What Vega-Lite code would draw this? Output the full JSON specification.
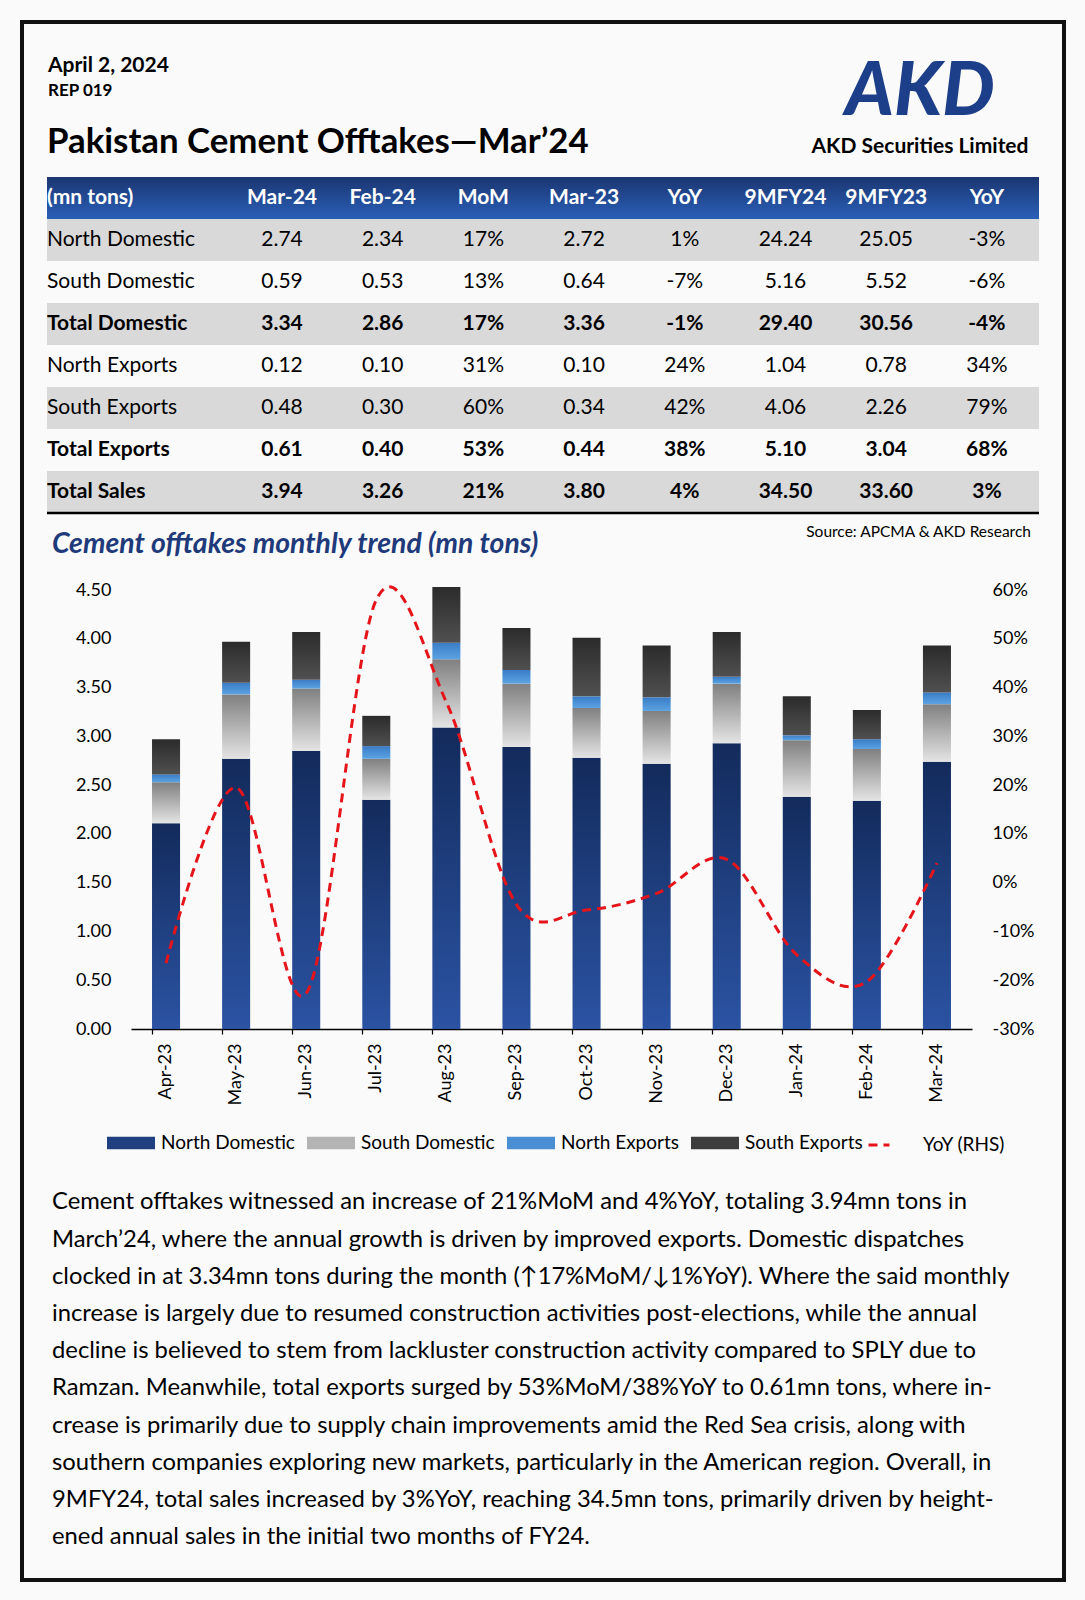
{
  "$schema": "https://vega.github.io/schema/vega-lite/v6.json",
  "background": "#fafafa",
  "padding": {"left": 20, "top": 20, "right": 19, "bottom": 18},
  "config": {
    "font": "Lato",
    "view": {"stroke": null},
    "axis": {"grid": false, "labelFont": "Lato", "labelColor": "#000"},
    "legend": {"labelFont": "Lato", "labelColor": "#000"},
    "title": {"font": "Lato", "subtitleFont": "Lato", "frame": "group", "color": "#000", "subtitleColor": "#000"},
    "text": {"font": "Lato"}
  },
  "datasets": {
    "table": [
      {"r": "(mn tons)", "c0": "(mn tons)", "c1": "Mar-24", "c2": "Feb-24", "c3": "MoM", "c4": "Mar-23", "c5": "YoY", "c6": "9MFY24", "c7": "9MFY23", "c8": "YoY"},
      {"r": "North Domestic", "c0": "North Domestic", "c1": "2.74", "c2": "2.34", "c3": "17%", "c4": "2.72", "c5": "1%", "c6": "24.24", "c7": "25.05", "c8": "-3%"},
      {"r": "South Domestic", "c0": "South Domestic", "c1": "0.59", "c2": "0.53", "c3": "13%", "c4": "0.64", "c5": "-7%", "c6": "5.16", "c7": "5.52", "c8": "-6%"},
      {"r": "Total Domestic", "c0": "Total Domestic", "c1": "3.34", "c2": "2.86", "c3": "17%", "c4": "3.36", "c5": "-1%", "c6": "29.40", "c7": "30.56", "c8": "-4%"},
      {"r": "North Exports", "c0": "North Exports", "c1": "0.12", "c2": "0.10", "c3": "31%", "c4": "0.10", "c5": "24%", "c6": "1.04", "c7": "0.78", "c8": "34%"},
      {"r": "South Exports", "c0": "South Exports", "c1": "0.48", "c2": "0.30", "c3": "60%", "c4": "0.34", "c5": "42%", "c6": "4.06", "c7": "2.26", "c8": "79%"},
      {"r": "Total Exports", "c0": "Total Exports", "c1": "0.61", "c2": "0.40", "c3": "53%", "c4": "0.44", "c5": "38%", "c6": "5.10", "c7": "3.04", "c8": "68%"},
      {"r": "Total Sales", "c0": "Total Sales", "c1": "3.94", "c2": "3.26", "c3": "21%", "c4": "3.80", "c5": "4%", "c6": "34.50", "c7": "33.60", "c8": "3%"}
    ],
    "bars": [
      {"m": "Apr-23", "s": "North Domestic", "k": 1, "v": 2.11},
      {"m": "Apr-23", "s": "South Domestic", "k": 2, "v": 0.42},
      {"m": "Apr-23", "s": "North Exports", "k": 3, "v": 0.08},
      {"m": "Apr-23", "s": "South Exports", "k": 4, "v": 0.36},
      {"m": "May-23", "s": "North Domestic", "k": 1, "v": 2.77},
      {"m": "May-23", "s": "South Domestic", "k": 2, "v": 0.66},
      {"m": "May-23", "s": "North Exports", "k": 3, "v": 0.12},
      {"m": "May-23", "s": "South Exports", "k": 4, "v": 0.42},
      {"m": "Jun-23", "s": "North Domestic", "k": 1, "v": 2.85},
      {"m": "Jun-23", "s": "South Domestic", "k": 2, "v": 0.64},
      {"m": "Jun-23", "s": "North Exports", "k": 3, "v": 0.09},
      {"m": "Jun-23", "s": "South Exports", "k": 4, "v": 0.49},
      {"m": "Jul-23", "s": "North Domestic", "k": 1, "v": 2.35},
      {"m": "Jul-23", "s": "South Domestic", "k": 2, "v": 0.42},
      {"m": "Jul-23", "s": "North Exports", "k": 3, "v": 0.13},
      {"m": "Jul-23", "s": "South Exports", "k": 4, "v": 0.31},
      {"m": "Aug-23", "s": "North Domestic", "k": 1, "v": 3.09},
      {"m": "Aug-23", "s": "South Domestic", "k": 2, "v": 0.70},
      {"m": "Aug-23", "s": "North Exports", "k": 3, "v": 0.17},
      {"m": "Aug-23", "s": "South Exports", "k": 4, "v": 0.57},
      {"m": "Sep-23", "s": "North Domestic", "k": 1, "v": 2.89},
      {"m": "Sep-23", "s": "South Domestic", "k": 2, "v": 0.65},
      {"m": "Sep-23", "s": "North Exports", "k": 3, "v": 0.14},
      {"m": "Sep-23", "s": "South Exports", "k": 4, "v": 0.43},
      {"m": "Oct-23", "s": "North Domestic", "k": 1, "v": 2.78},
      {"m": "Oct-23", "s": "South Domestic", "k": 2, "v": 0.51},
      {"m": "Oct-23", "s": "North Exports", "k": 3, "v": 0.12},
      {"m": "Oct-23", "s": "South Exports", "k": 4, "v": 0.60},
      {"m": "Nov-23", "s": "North Domestic", "k": 1, "v": 2.72},
      {"m": "Nov-23", "s": "South Domestic", "k": 2, "v": 0.54},
      {"m": "Nov-23", "s": "North Exports", "k": 3, "v": 0.14},
      {"m": "Nov-23", "s": "South Exports", "k": 4, "v": 0.53},
      {"m": "Dec-23", "s": "North Domestic", "k": 1, "v": 2.93},
      {"m": "Dec-23", "s": "South Domestic", "k": 2, "v": 0.61},
      {"m": "Dec-23", "s": "North Exports", "k": 3, "v": 0.07},
      {"m": "Dec-23", "s": "South Exports", "k": 4, "v": 0.46},
      {"m": "Jan-24", "s": "North Domestic", "k": 1, "v": 2.38},
      {"m": "Jan-24", "s": "South Domestic", "k": 2, "v": 0.58},
      {"m": "Jan-24", "s": "North Exports", "k": 3, "v": 0.05},
      {"m": "Jan-24", "s": "South Exports", "k": 4, "v": 0.40},
      {"m": "Feb-24", "s": "North Domestic", "k": 1, "v": 2.34},
      {"m": "Feb-24", "s": "South Domestic", "k": 2, "v": 0.53},
      {"m": "Feb-24", "s": "North Exports", "k": 3, "v": 0.10},
      {"m": "Feb-24", "s": "South Exports", "k": 4, "v": 0.30},
      {"m": "Mar-24", "s": "North Domestic", "k": 1, "v": 2.74},
      {"m": "Mar-24", "s": "South Domestic", "k": 2, "v": 0.59},
      {"m": "Mar-24", "s": "North Exports", "k": 3, "v": 0.12},
      {"m": "Mar-24", "s": "South Exports", "k": 4, "v": 0.48}
    ],
    "yoy": [
      {"m": "Apr-23", "lab": "YoY (RHS)", "yoy": -0.165},
      {"m": "May-23", "lab": "YoY (RHS)", "yoy": 0.195},
      {"m": "Jun-23", "lab": "YoY (RHS)", "yoy": -0.227},
      {"m": "Jul-23", "lab": "YoY (RHS)", "yoy": 0.58},
      {"m": "Aug-23", "lab": "YoY (RHS)", "yoy": 0.37},
      {"m": "Sep-23", "lab": "YoY (RHS)", "yoy": -0.045},
      {"m": "Oct-23", "lab": "YoY (RHS)", "yoy": -0.056},
      {"m": "Nov-23", "lab": "YoY (RHS)", "yoy": -0.022},
      {"m": "Dec-23", "lab": "YoY (RHS)", "yoy": 0.048},
      {"m": "Jan-24", "lab": "YoY (RHS)", "yoy": -0.148},
      {"m": "Feb-24", "lab": "YoY (RHS)", "yoy": -0.203},
      {"m": "Mar-24", "lab": "YoY (RHS)", "yoy": 0.04}
    ]
  },
  "columns": 5,
  "spacing": 0,
  "bounds": "flush",
  "align": "each",
  "concat": [
    {"width": 4, "height": 4, "view": {"fill": "#111111"}, "data": {"values": []}, "mark": "point"},
    {"width": 23, "height": 4, "view": {"fill": "#111111"}, "data": {"values": []}, "mark": "point"},
    {"width": 992, "height": 4, "view": {"fill": "#111111"}, "data": {"values": []}, "mark": "point",
     "title": {"text": "April 2, 2024", "subtitle": "REP 019", "orient": "bottom", "anchor": "start", "dx": 1, "offset": 31, "fontSize": 21, "fontWeight": "bold", "subtitleFontSize": 17, "subtitleFontWeight": "bold", "subtitlePadding": 7}},
    {"width": 23, "height": 4, "view": {"fill": "#111111"}, "data": {"values": []}, "mark": "point",
     "title": {"text": "AKD", "subtitle": "AKD Securities Limited", "orient": "bottom", "anchor": "end", "align": "center", "dx": -142, "offset": 33, "fontSize": 74, "fontStyle": "italic", "fontWeight": 900, "color": "#1d3f8a", "subtitleFontSize": 21, "subtitleFontWeight": "bold", "subtitlePadding": 5}},
    {"width": 4, "height": 4, "view": {"fill": "#111111"}, "data": {"values": []}, "mark": "point"},

    {"width": 4, "height": 153, "view": {"fill": "#111111"}, "data": {"values": []}, "mark": "point"},
    {"width": 23, "height": 153, "data": {"values": []}, "mark": "point"},
    {"width": 992, "height": 153, "data": {"values": []}, "mark": "point"},
    {"width": 23, "height": 153, "data": {"values": []}, "mark": "point"},
    {"width": 4, "height": 153, "view": {"fill": "#111111"}, "data": {"values": []}, "mark": "point"},

    {"width": 4, "height": 336, "view": {"fill": "#111111"}, "data": {"values": []}, "mark": "point"},
    {"width": 23, "height": 336, "data": {"values": []}, "mark": "point"},
    {
      "width": 992, "height": 336,
      "data": {"name": "table"},
      "transform": [{"fold": ["c0", "c1", "c2", "c3", "c4", "c5", "c6", "c7", "c8"], "as": ["col", "txt"]}],
      "title": {"text": "Pakistan Cement Offtakes—Mar’24", "orient": "top", "anchor": "start", "offset": 16, "fontSize": 34.8, "fontWeight": "bold"},
      "encoding": {
        "y": {"field": "r", "type": "nominal", "scale": {"domain": ["(mn tons)", "North Domestic", "South Domestic", "Total Domestic", "North Exports", "South Exports", "Total Exports", "Total Sales"], "paddingInner": 0, "paddingOuter": 0}, "axis": null}
      },
      "layer": [
        {
          "transform": [{"filter": {"field": "col", "equal": "c0"}}, {"filter": {"field": "r", "oneOf": ["North Domestic", "Total Domestic", "South Exports", "Total Sales"]}}],
          "mark": {"type": "rect", "color": "#d9d9d9"}
        },
        {
          "transform": [{"filter": {"field": "col", "equal": "c0"}}, {"filter": {"field": "r", "equal": "(mn tons)"}}],
          "mark": {"type": "rect", "color": {"gradient": "linear", "x1": 0, "y1": 0, "x2": 0, "y2": 1, "stops": [{"offset": 0, "color": "#1b3671"}, {"offset": 1, "color": "#2a5fb8"}]}}
        },
        {
          "transform": [{"filter": {"field": "col", "equal": "c0"}}, {"filter": {"field": "r", "equal": "Total Sales"}}],
          "mark": {"type": "rule", "strokeWidth": 2.5, "color": "#000"},
          "encoding": {"y": {"field": "r", "type": "nominal", "bandPosition": 1}}
        },
        {
          "transform": [{"filter": {"field": "col", "equal": "c0"}}, {"filter": {"not": {"field": "r", "oneOf": ["(mn tons)", "Total Domestic", "Total Exports", "Total Sales"]}}}],
          "mark": {"type": "text", "align": "left", "baseline": "middle", "fontSize": 21},
          "encoding": {
            "x": {"field": "col", "type": "nominal", "scale": {"type": "band", "domain": ["c0"], "paddingInner": 0, "paddingOuter": 0}, "bandPosition": 0, "axis": null},
            "text": {"field": "txt"},
            "color": {"value": "#000"}
          }
        },
        {
          "transform": [{"filter": {"field": "col", "equal": "c0"}}, {"filter": {"field": "r", "oneOf": ["(mn tons)", "Total Domestic", "Total Exports", "Total Sales"]}}],
          "mark": {"type": "text", "align": "left", "baseline": "middle", "fontSize": 21, "fontWeight": "bold"},
          "encoding": {
            "x": {"field": "col", "type": "nominal", "scale": {"type": "band", "domain": ["c0"], "paddingInner": 0, "paddingOuter": 0}, "bandPosition": 0, "axis": null},
            "text": {"field": "txt"},
            "color": {"condition": {"test": "datum.r === '(mn tons)'", "value": "#ffffff"}, "value": "#000"}
          }
        },
        {
          "transform": [{"filter": {"not": {"field": "col", "equal": "c0"}}}, {"filter": {"not": {"field": "r", "oneOf": ["(mn tons)", "Total Domestic", "Total Exports", "Total Sales"]}}}],
          "mark": {"type": "text", "align": "center", "baseline": "middle", "fontSize": 21},
          "encoding": {
            "x": {"field": "col", "type": "nominal", "scale": {"type": "band", "domain": ["c1", "c2", "c3", "c4", "c5", "c6", "c7", "c8"], "paddingInner": 0, "paddingOuter": 0.9255, "align": 0.9906}, "axis": null},
            "text": {"field": "txt"},
            "color": {"value": "#000"}
          }
        },
        {
          "transform": [{"filter": {"not": {"field": "col", "equal": "c0"}}}, {"filter": {"field": "r", "oneOf": ["(mn tons)", "Total Domestic", "Total Exports", "Total Sales"]}}],
          "mark": {"type": "text", "align": "center", "baseline": "middle", "fontSize": 21, "fontWeight": "bold"},
          "encoding": {
            "x": {"field": "col", "type": "nominal", "scale": {"type": "band", "domain": ["c1", "c2", "c3", "c4", "c5", "c6", "c7", "c8"], "paddingInner": 0, "paddingOuter": 0.9255, "align": 0.9906}, "axis": null},
            "text": {"field": "txt"},
            "color": {"condition": {"test": "datum.r === '(mn tons)'", "value": "#ffffff"}, "value": "#000"}
          }
        }
      ],
      "resolve": {"scale": {"x": "independent"}}
    },
    {"width": 23, "height": 336, "data": {"values": []}, "mark": "point",
     "title": {"text": "Source: APCMA & AKD Research", "orient": "bottom", "anchor": "end", "dx": -31, "offset": 12, "fontSize": 15.5, "fontWeight": "normal"}},
    {"width": 4, "height": 336, "view": {"fill": "#111111"}, "data": {"values": []}, "mark": "point"},

    {"width": 4, "height": 77, "view": {"fill": "#111111"}, "data": {"values": []}, "mark": "point"},
    {"width": 23, "height": 77, "data": {"values": []}, "mark": "point"},
    {"width": 992, "height": 77, "data": {"values": []}, "mark": "point"},
    {"width": 23, "height": 77, "data": {"values": []}, "mark": "point"},
    {"width": 4, "height": 77, "view": {"fill": "#111111"}, "data": {"values": []}, "mark": "point"},

    {"width": 4, "height": 439, "view": {"fill": "#111111"}, "data": {"values": []}, "mark": "point"},
    {"width": 23, "height": 439, "data": {"values": []}, "mark": "point"},
    {
      "width": 992, "height": 439,
      "title": {"text": "Cement offtakes monthly trend (mn tons)", "orient": "top", "anchor": "start", "dx": 5, "offset": 21, "fontSize": 28.4, "fontStyle": "italic", "fontWeight": "bold", "color": "#1f3a7a"},
      "layer": [
        {
          "data": {"name": "bars"},
          "transform": [{"stack": "v", "groupby": ["m"], "sort": [{"field": "k", "order": "ascending"}], "as": ["y0", "y1"]}],
          "encoding": {
            "x": {"field": "m", "type": "nominal", "scale": {"domain": ["Apr-23", "May-23", "Jun-23", "Jul-23", "Aug-23", "Sep-23", "Oct-23", "Nov-23", "Dec-23", "Jan-24", "Feb-24", "Mar-24"], "range": [84, 925], "paddingInner": 0.6, "paddingOuter": 0.3},
              "axis": {"title": null, "labelAngle": -90, "labelFontSize": 18, "labelPadding": 9, "bandPosition": 0, "domainColor": "#000", "domainWidth": 1.5, "tickColor": "#000", "tickSize": 5, "tickWidth": 1.2}},
            "y": {"field": "y0", "type": "quantitative", "scale": {"domain": [0, 4.5], "nice": false},
              "axis": {"title": null, "offset": -84, "values": [0, 0.5, 1, 1.5, 2, 2.5, 3, 3.5, 4, 4.5], "format": ".2f", "domain": false, "ticks": false, "tickSize": 0, "labelPadding": 20, "labelFontSize": 18}},
            "y2": {"field": "y1"}
          },
          "layer": [
            {
              "transform": [{"filter": {"field": "s", "equal": "North Domestic"}}],
              "mark": {"type": "bar", "color": {"gradient": "linear", "x1": 0, "y1": 0, "x2": 0, "y2": 1, "stops": [{"offset": 0, "color": "#132b5c"}, {"offset": 1, "color": "#2b53a3"}]}}
            },
            {
              "transform": [{"filter": {"field": "s", "equal": "South Domestic"}}],
              "mark": {"type": "bar", "color": {"gradient": "linear", "x1": 0, "y1": 0, "x2": 0, "y2": 1, "stops": [{"offset": 0, "color": "#808080"}, {"offset": 1, "color": "#e4e4e4"}]}}
            },
            {
              "transform": [{"filter": {"field": "s", "equal": "North Exports"}}],
              "mark": {"type": "bar", "color": {"gradient": "linear", "x1": 0, "y1": 0, "x2": 0, "y2": 1, "stops": [{"offset": 0, "color": "#3a7cc6"}, {"offset": 1, "color": "#5ba3e3"}]}}
            },
            {
              "transform": [{"filter": {"field": "s", "equal": "South Exports"}}],
              "mark": {"type": "bar", "color": {"gradient": "linear", "x1": 0, "y1": 0, "x2": 0, "y2": 1, "stops": [{"offset": 0, "color": "#2b2b2b"}, {"offset": 1, "color": "#505050"}]}}
            },
            {
              "mark": {"type": "bar", "opacity": 0},
              "encoding": {
                "color": {"field": "s", "type": "nominal",
                  "scale": {"domain": ["North Domestic", "South Domestic", "North Exports", "South Exports"], "range": ["#1f3f80", "#b4b4b4", "#4a8fd4", "#3d3d3d"]},
                  "legend": {"orient": "none", "legendX": 87, "legendY": 1099, "direction": "horizontal", "title": null, "symbolType": "M-1,-0.26H1V0.26H-1Z", "symbolSize": 2304, "symbolStrokeWidth": 0, "symbolOpacity": 1, "labelFontSize": 19, "labelOffset": 6, "columnPadding": 12, "padding": 0, "labelLimit": 0}}
              }
            }
          ]
        },
        {
          "data": {"name": "yoy"},
          "mark": {"type": "line", "interpolate": "cardinal", "strokeWidth": 3, "color": "#e5141b"},
          "encoding": {
            "x": {"field": "m", "type": "nominal"},
            "y": {"field": "yoy", "type": "quantitative", "scale": {"domain": [-0.3, 0.6], "nice": false, "zero": false},
              "axis": {"orient": "right", "offset": -67, "title": null, "values": [-0.3, -0.2, -0.1, 0, 0.1, 0.2, 0.3, 0.4, 0.5, 0.6], "format": ".0%", "labelExpr": "replace(datum.label, '−', '-')", "domain": false, "ticks": false, "tickSize": 0, "labelPadding": 20, "labelFontSize": 18}},
            "strokeDash": {"field": "lab", "type": "nominal", "scale": {"range": [[9, 6]]},
              "legend": {"orient": "none", "legendX": 847, "legendY": 1113, "direction": "horizontal", "title": null, "symbolType": "stroke", "symbolSize": 441, "symbolStrokeWidth": 3, "symbolStrokeColor": "#e5141b", "symbolDash": [8, 5], "labelFontSize": 19, "labelOffset": 32, "padding": 0, "labelLimit": 0}}
          }
        }
      ],
      "resolve": {"scale": {"y": "independent"}}
    },
    {"width": 23, "height": 439, "data": {"values": []}, "mark": "point"},
    {"width": 4, "height": 439, "view": {"fill": "#111111"}, "data": {"values": []}, "mark": "point"},

    {"width": 4, "height": 549, "view": {"fill": "#111111"}, "data": {"values": []}, "mark": "point"},
    {"width": 23, "height": 549, "data": {"values": []}, "mark": "point"},
    {"width": 992, "height": 549, "data": {"values": []}, "mark": "point"},
    {"width": 23, "height": 549, "data": {"values": []}, "mark": "point"},
    {"width": 4, "height": 549, "view": {"fill": "#111111"}, "data": {"values": []}, "mark": "point"},

    {"width": 4, "height": 4, "view": {"fill": "#111111"}, "data": {"values": []}, "mark": "point"},
    {"width": 23, "height": 4, "view": {"fill": "#111111"}, "data": {"values": []}, "mark": "point"},
    {"width": 992, "height": 4, "view": {"fill": "#111111"}, "data": {"values": []}, "mark": "point",
     "title": {
        "text": [
          "Cement offtakes witnessed an increase of 21%MoM and 4%YoY, totaling 3.94mn tons in",
          "March’24, where the annual growth is driven by improved exports. Domestic dispatches",
          "clocked in at 3.34mn tons during the month (↑17%MoM/↓1%YoY). Where the said monthly",
          "increase is largely due to resumed construction activities post-elections, while the annual",
          "decline is believed to stem from lackluster construction activity compared to SPLY due to",
          "Ramzan. Meanwhile, total exports surged by 53%MoM/38%YoY to 0.61mn tons, where in-",
          "crease is primarily due to supply chain improvements amid the Red Sea crisis, along with",
          "southern companies exploring new markets, particularly in the American region. Overall, in",
          "9MFY24, total sales increased by 3%YoY, reaching 34.5mn tons, primarily driven by height-",
          "ened annual sales in the initial two months of FY24."
        ],
        "orient": "top", "anchor": "start", "dx": 5, "offset": 29, "fontSize": 23.8, "fontWeight": "normal", "lineHeight": 37.2
     }},
    {"width": 23, "height": 4, "view": {"fill": "#111111"}, "data": {"values": []}, "mark": "point"},
    {"width": 4, "height": 4, "view": {"fill": "#111111"}, "data": {"values": []}, "mark": "point"}
  ]
}
